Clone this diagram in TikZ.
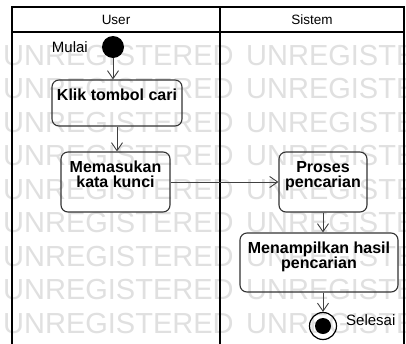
\documentclass[tikz,border=0pt]{standalone}
\usepackage{fontspec}
\setmainfont{Liberation Sans}
\usetikzlibrary{arrows.meta}
\begin{document}
\begin{tikzpicture}[x=1pt,y=-1pt,
  lane/.style={draw=black,line width=1.8pt},
  act/.style={draw=black!80,line width=1.1pt,rounded corners=7pt,inner sep=0pt},
  acttext/.style={anchor=north,inner sep=0pt,align=center,font=\fontsize{16}{15}\selectfont\bfseries},
  flow/.style={draw=black!75,line width=0.9pt,-{Straight Barb[length=8pt,width=11pt,line width=0.9pt]}},
  wm/.style={anchor=base west,inner sep=0pt,text=black!12,font=\fontsize{29}{29}\selectfont},
  lbl/.style={inner sep=0pt,font=\fontsize{15}{15}\selectfont},
  hdr/.style={inner sep=0pt,font=\fontsize{13.5}{13.5}\selectfont}]
\useasboundingbox (0,0) rectangle (406,343);
\clip (0,0) rectangle (406,343);
\fill[white] (0,0) rectangle (406,343);
% watermark
\foreach \yy [count=\i] in {55,88.5,122,155.5,189,222.5,256,289.5,323} {
  \node[wm] (wmA\i) at (3,\yy+10.3) {UNREGISTERED};
  \node[wm] (wmB\i) at (246,\yy+10.3) {UNREGISTERED};
}
% swimlanes
\draw[lane] (12,7) rectangle (404,360);
\draw[lane] (12,32) -- (404,32);
\draw[lane] (220,7) -- (220,360);
\node[hdr] (hUser) at (116,19.5) {User};
\node[hdr] (hSis) at (312,19.5) {Sistem};
% start
\node[circle,fill=black,minimum size=22pt,inner sep=0pt] (start) at (113,47) {};
\node[lbl,anchor=east] (mulai) at (88,47) {Mulai};
% activities
\node[act,minimum width=130pt,minimum height=46pt] (klik) at (117,103) {};
\node[acttext] (klikT) at (117,89) {Klik tombol cari};
\node[act,minimum width=109pt,minimum height=60pt] (masuk) at (115.5,182) {};
\node[acttext] (masukT) at (115.5,161) {Memasukan\\kata kunci};
\node[act,minimum width=88pt,minimum height=60pt] (proses) at (323,182) {};
\node[acttext] (prosesT) at (323,161) {Proses\\pencarian};
\node[act,minimum width=158pt,minimum height=59pt] (tampil) at (319,262.5) {};
\node[acttext] (tampilT) at (319,242) {Menampilkan hasil\\pencarian};
% end
\node[circle,draw=black,line width=1.2pt,minimum size=27pt,inner sep=0pt] (finish) at (323,326) {};
\node[circle,fill=black,minimum size=16pt,inner sep=0pt] (finishIn) at (finish) {};
\node[lbl,anchor=west] (selesai) at (346,320) {Selesai};
% flows
\draw[flow] (start) -- (start |- klik.north);
\draw[flow] (klik.south) -- (masuk.north -| klik.south);
\draw[flow] (masuk.east) -- (proses.west);
\draw[flow] (proses.south) -- (tampil.north -| proses.south);
\draw[flow] (tampil.south -| proses.south) -- (finish.north);
\end{tikzpicture}
\end{document}
